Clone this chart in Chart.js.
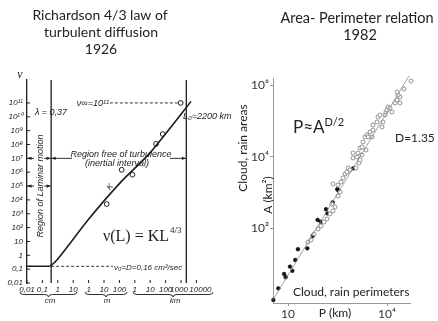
<!DOCTYPE html>
<html>
<head>
<meta charset="utf-8">
<script src="https://cdn.jsdelivr.net/npm/chart.js@4.4.1/dist/chart.umd.min.js"></script>
<style>
  body { margin: 0; background: #fff; }
  .wrap { position: relative; width: 438px; height: 321px; overflow: hidden; }
  canvas { position: absolute; top: 0; }
  #richardson { left: 0; }
  #areaPerim { left: 220px; }
</style>
</head>
<body>
<div class="wrap">
  <canvas id="richardson" width="232" height="321"></canvas>
  <canvas id="areaPerim" width="218" height="321"></canvas>
</div>
<script>
// Richardson law: length scale L (metres) against diffusivity nu (cm^2/sec)
const curveL  = [1e-4, 2.5e-3, 3.5e-3, 5e-3, 7e-3, 1e-2, 1, 100, 1e4, 1e5, 4.5e6];
const curveNu = [0.16, 0.16, 0.18, 0.25, 0.35, 0.55, 400, 1.5e5, 2.6e7, 6e8, 1.3e11];
const obsL  = [15, 140, 700, 2.4e4, 6.5e4, 9.5e5];
const obsNu = [5e3, 1.5e6, 6.6e5, 1.1e8, 5.7e8, 1e11];
const lambdaM = 0.0037;   // 0,37 cm
const outerM = 2.2e6;     // L0 = 2200 km
const nu0 = 0.16;
const nuMax = 1e11;
const lTicks = [1e-4, 1e-3, 1e-2, 1e-1, 1, 10, 100, 1e3, 1e4, 1e5, 1e6, 1e7];
// en spaces nudge the crowded km labels apart
const lTickLabels = ['0,01', '0,1', '1', '10', '1', '10', '100', '1', '10', '100', '1000\u2002', '\u2002\u200210000'];
const nuTicks = [0.01, 0.1, 1, 10, 1e2, 1e3, 1e4, 1e5, 1e6, 1e7, 1e8, 1e9, 1e10, 1e11];
const nuTickLabels = ['0,01', '0,1', '1', '10', '10²', '10³', '10⁴', '10⁵', '10⁶', '10⁷', '10⁸', '10⁹', '10¹⁰', '10¹¹'];

// Area-perimeter relation: perimeter P (km), area A (km^2)
const perimFilled = [3.6, 5.1, 7.6, 8.5, 11.5, 13.5, 16.6, 20, 38.5, 56, 79, 98, 142, 155, 226, 312, 334, 953];
const areaFilled  = [1.0, 2.1, 5.3, 4.3, 8.5, 6.5, 13, 26, 27.6, 61, 171, 153, 340, 262, 532, 1230, 1150, 4740];
const perimOpen = [40, 50, 61, 81, 100, 123, 152, 187, 231, 266, 215, 231, 327, 377, 327, 404, 464, 534, 614, 658,
  757, 933, 933, 1230, 1150, 1420, 1520, 1320, 1520, 1750, 1870, 1750, 2310, 2150, 2480, 2660, 3510, 3050, 3770, 3770,
  4980, 5340, 6140, 7050, 7570, 8690, 9330, 10000, 10700, 12300, 14200, 17500, 24800, 20100, 24800, 21500, 20100, 32700, 53300];
const areaOpen = [41, 47, 69, 96, 116, 150, 182, 251, 304, 394, 477, 1730, 798, 1030, 1620, 1960, 2540, 3290, 3740, 4830,
  4250, 9200, 12700, 9820, 4830, 6670, 8090, 12700, 17500, 18700, 25800, 11200, 15400, 35500, 40400, 35500, 35500, 49000, 55700, 76700,
  93100, 128500, 146200, 67600, 93100, 146200, 177400, 201400, 244300, 229100, 177400, 316200, 316200, 383700, 465600, 528400, 641200, 778000, 1303000];
const fitP = [3.5, 46400];
const fitA = [1.0, 1.79e6];
const pTicks = [10, 1e4];
const pTickLabels = ['10', '10⁴'];
const aTicks = [1e2, 1e4, 1e6];
const aTickLabels = ['10²', '10⁴', '10⁶'];

const ink = '#1c1c1c';
const hand = '"Liberation Sans", sans-serif';
const sans = 'Lato, "DejaVu Sans", sans-serif';

function txt(ctx, s, x, y, font, align, angle) {
  ctx.save();
  ctx.translate(x, y);
  if (angle) ctx.rotate(angle * Math.PI / 180);
  ctx.font = font;
  ctx.textAlign = align || 'left';
  ctx.textBaseline = 'middle';
  ctx.fillText(s, 0, 0);
  ctx.restore();
}

function seg(ctx, x0, y0, x1, y1) {
  ctx.beginPath();
  ctx.moveTo(x0, y0);
  ctx.lineTo(x1, y1);
  ctx.stroke();
}

function arrow(ctx, x0, x1, y) {
  const d = x1 > x0 ? 1 : -1;
  seg(ctx, x0, y, x1, y);
  ctx.beginPath();
  ctx.moveTo(x1, y);
  ctx.lineTo(x1 - d * 4, y - 1.6);
  ctx.lineTo(x1 - d * 4, y + 1.6);
  ctx.closePath();
  ctx.fill();
}

function brace(ctx, x1, x2, y, h) {
  const mid = (x1 + x2) / 2, r = 4;
  ctx.beginPath();
  ctx.moveTo(x1, y);
  ctx.quadraticCurveTo(x1, y + h / 2, x1 + r, y + h / 2);
  ctx.lineTo(mid - r, y + h / 2);
  ctx.quadraticCurveTo(mid, y + h / 2, mid, y + h);
  ctx.quadraticCurveTo(mid, y + h / 2, mid + r, y + h / 2);
  ctx.lineTo(x2 - r, y + h / 2);
  ctx.quadraticCurveTo(x2, y + h / 2, x2, y);
  ctx.stroke();
}

const pts = (xs, ys) => xs.map((v, i) => ({ x: v, y: ys[i] }));

// annotations for the diffusion diagram
const richardsonNotes = {
  id: 'richardsonNotes',
  afterDatasetsDraw(chart) {
    const { ctx, chartArea: a, scales: { x, y } } = chart;
    ctx.save();
    ctx.strokeStyle = ink;
    ctx.fillStyle = ink;

    ctx.lineWidth = 1.3;
    [lambdaM, outerM].forEach(v => {
      const px = x.getPixelForValue(v);
      seg(ctx, px, a.top, px, a.bottom);
    });

    ctx.lineWidth = 1;
    nuTicks.forEach(v => {
      const py = y.getPixelForValue(v);
      seg(ctx, a.left, py, a.left + 3, py);
    });
    lTicks.forEach(v => {
      const px = x.getPixelForValue(v);
      seg(ctx, px, a.bottom - 3, px, a.bottom);
    });

    ctx.lineWidth = 0.9;
    ctx.setLineDash([3, 2]);
    const y0 = y.getPixelForValue(nu0);
    seg(ctx, x.getPixelForValue(lambdaM), y0, x.getPixelForValue(38), y0);
    const yMax = y.getPixelForValue(nuMax);
    seg(ctx, x.getPixelForValue(24), yMax, x.getPixelForValue(obsL[5]) - 3, yMax);
    ctx.setLineDash([]);

    const y7 = y.getPixelForValue(1e7), y5 = y.getPixelForValue(1e5);
    const xl = x.getPixelForValue(lambdaM), xo = x.getPixelForValue(outerM);
    [y7, y5].forEach(py => {
      arrow(ctx, a.left + 7, a.left + 0.5, py);
      arrow(ctx, xl - 7, xl - 0.5, py);
    });
    arrow(ctx, 72, xl + 0.5, y7);
    arrow(ctx, 170, xo - 0.5, y7);

    brace(ctx, 20, 77, 292, 5);
    brace(ctx, 85, 127, 292, 5);
    brace(ctx, 133, 213, 292, 5);

    const f9 = 'italic 9px ' + hand;
    const f8 = 'italic 8px ' + hand;
    txt(ctx, 'cm', 50, 301, f8, 'center');
    txt(ctx, 'm', 107, 301, f8, 'center');
    txt(ctx, 'km', 175, 301, f8, 'center');

    txt(ctx, 'ν', 20, 75, 'italic 12px "Liberation Serif"', 'center');
    txt(ctx, 'λ = 0,37', 51, 112, f9, 'center');
    txt(ctx, 'Region of Laminar motion', 40, 186, f9, 'center', -90);
    txt(ctx, 'Region free of turbulence', 121, 154, f9, 'center');
    txt(ctx, '(inertial interval)', 117, 163, f9, 'center');
    txt(ctx, 'ν∞=10¹¹', 109, 103, f9, 'right');
    txt(ctx, 'L₀=2200 km', 183, 116, f9, 'left');
    txt(ctx, 'K', 110, 187, f8, 'center', -50);
    txt(ctx, 'ν₀=D=0,16 cm²/sec', 114, 268, f8, 'left');

    const main = '16px "Liberation Serif"';
    ctx.font = main;
    const w = ctx.measureText('ν(L) = KL').width;
    txt(ctx, 'ν(L) = KL', 103, 237, main, 'left');
    txt(ctx, '4/3', 103 + w + 1, 231, '9px "Liberation Serif"', 'left');

    const tf = '14px ' + sans;
    ctx.fillStyle = '#222';
    txt(ctx, 'Richardson 4/3 law of', 100, 15, tf, 'center');
    txt(ctx, 'turbulent diffusion', 101, 32, tf, 'center');
    txt(ctx, '1926', 101, 49, tf, 'center');
    ctx.restore();
  }
};

new Chart(document.getElementById('richardson'), {
  type: 'scatter',
  data: {
    datasets: [
      {
        data: pts(curveL, curveNu),
        showLine: true,
        cubicInterpolationMode: 'monotone',
        borderColor: ink,
        borderWidth: 1.6,
        pointRadius: 0
      },
      {
        data: pts(obsL, obsNu),
        pointRadius: 2.4,
        pointBorderColor: ink,
        pointBackgroundColor: '#fff',
        pointBorderWidth: 1
      }
    ]
  },
  options: {
    responsive: false,
    animation: false,
    devicePixelRatio: 1,
    layout: { padding: { top: 80, right: 32, left: 0, bottom: 0 } },
    plugins: { legend: { display: false }, tooltip: { enabled: false } },
    scales: {
      x: {
        type: 'logarithmic',
        min: 1e-4,
        max: 1.71e7,
        border: { display: false },
        grid: { display: false, drawTicks: false },
        ticks: {
          autoSkip: false, maxRotation: 0, padding: 2, color: ink,
          font: { family: 'Liberation Sans', style: 'italic', size: 8 },
          callback: (v, i) => lTickLabels[i]
        },
        afterBuildTicks: s => { s.ticks = lTicks.map(v => ({ value: v })); },
        afterFit: s => { s.height = 38; }
      },
      y: {
        type: 'logarithmic',
        min: 0.01,
        max: 4.54e12,
        border: { display: true, color: ink, width: 1.3 },
        grid: { display: false, drawTicks: false },
        ticks: {
          autoSkip: false, padding: 4, color: ink,
          font: { family: 'Liberation Sans', style: 'italic', size: 8 },
          callback: (v, i) => nuTickLabels[i]
        },
        afterBuildTicks: s => { s.ticks = nuTicks.map(v => ({ value: v })); },
        afterFit: s => { s.width = 27; }
      }
    }
  },
  plugins: [richardsonNotes]
});

// annotations for the area-perimeter plot
const areaNotes = {
  id: 'areaNotes',
  afterDatasetsDraw(chart) {
    const { ctx } = chart;
    ctx.save();
    ctx.fillStyle = '#222';
    const tf = '14.5px ' + sans;
    txt(ctx, 'Area- Perimeter relation', 137, 18, tf, 'center');
    txt(ctx, '1982', 140, 35, tf, 'center');

    const f12 = '12px ' + sans;
    txt(ctx, 'Cloud, rain areas', 23, 148, f12, 'center', -90);
    txt(ctx, 'A (km²)', 48, 195, f12, 'center', -90);
    txt(ctx, 'D=1.35', 175, 138, f12, 'left');
    txt(ctx, 'Cloud, rain perimeters', 73, 292, f12, 'left');
    txt(ctx, 'P (km)', 115, 313, f12, 'center');

    const big = '17px ' + sans;
    ctx.font = big;
    const w = ctx.measureText('P≈A').width;
    txt(ctx, 'P≈A', 73, 128, big, 'left');
    txt(ctx, 'D/2', 73 + w, 122, '11px ' + sans, 'left');
    ctx.restore();
  }
};

new Chart(document.getElementById('areaPerim'), {
  type: 'scatter',
  data: {
    datasets: [
      {
        data: pts(fitP, fitA),
        showLine: true,
        borderColor: '#8a8a8a',
        borderWidth: 0.8,
        pointRadius: 0,
        clip: false
      },
      {
        data: pts(perimOpen, areaOpen),
        pointRadius: 2,
        pointBorderColor: '#7a7a7a',
        pointBackgroundColor: '#fff',
        pointBorderWidth: 0.8,
        clip: false
      },
      {
        data: pts(perimFilled, areaFilled),
        pointRadius: 1.9,
        pointBorderColor: '#111',
        pointBackgroundColor: '#111',
        pointBorderWidth: 0.5,
        clip: false
      }
    ]
  },
  options: {
    responsive: false,
    animation: false,
    devicePixelRatio: 1,
    layout: { padding: { top: 78, right: 28, left: 0, bottom: 0 } },
    plugins: { legend: { display: false }, tooltip: { enabled: false } },
    scales: {
      x: {
        type: 'logarithmic',
        min: 3.51,
        max: 49770,
        border: { color: '#999', width: 1 },
        grid: { display: true, drawOnChartArea: false, tickLength: 3, color: '#999' },
        ticks: {
          autoSkip: false, maxRotation: 0, padding: 1, color: '#333',
          font: { family: 'Lato', size: 12 },
          callback: (v, i) => pTickLabels[i]
        },
        afterBuildTicks: s => { s.ticks = pTicks.map(v => ({ value: v })); },
        afterFit: s => { s.height = 18; }
      },
      y: {
        type: 'logarithmic',
        min: 0.818,
        max: 1.578e6,
        border: { color: '#999', width: 1 },
        grid: { display: true, drawOnChartArea: false, tickLength: 3, color: '#999' },
        ticks: {
          autoSkip: false, padding: 1, color: '#333',
          font: { family: 'Lato', size: 12 },
          callback: (v, i) => aTickLabels[i]
        },
        afterBuildTicks: s => { s.ticks = aTicks.map(v => ({ value: v })); },
        afterFit: s => { s.width = 53; }
      }
    }
  },
  plugins: [areaNotes]
});
</script>
</body>
</html>
